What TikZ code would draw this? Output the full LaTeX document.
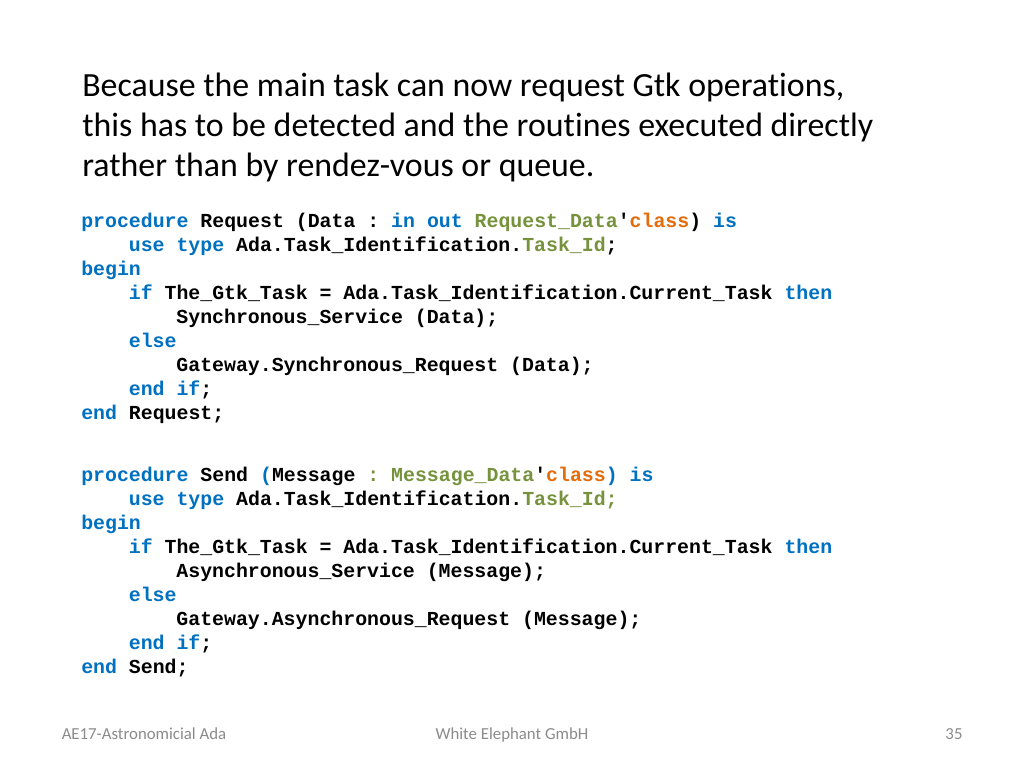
\documentclass[tikz,border=0pt]{standalone}
\usepackage{fontspec}
\setmainfont{Carlito}[Ligatures={NoCommon,NoRare},RawFeature={-liga;-dlig}]
\newfontfamily\codefont{Liberation Mono}
\definecolor{kwblue}{HTML}{0070C0}
\definecolor{tyolive}{HTML}{76923C}
\definecolor{atorange}{HTML}{E46C0A}
\definecolor{footgray}{HTML}{8B8B8B}
\newcommand{\kw}[1]{\textcolor{kwblue}{#1}}
\newcommand{\ty}[1]{\textcolor{tyolive}{#1}}
\newcommand{\atr}[1]{\textcolor{atorange}{#1}}
\newcommand{\indA}{\hspace*{35.7pt}}
\newcommand{\indB}{\hspace*{71.4pt}}
\frenchspacing
\begin{document}
\begin{tikzpicture}[x=0.75pt,y=-0.75pt,
  titlestyle/.style={anchor=base west,inner sep=0pt,font=\fontsize{25.4}{30}\selectfont},
  codestyle/.style={anchor=base west,inner sep=0pt,font=\codefont\bfseries\fontsize{14.9}{18}\selectfont\frenchspacing},
  footstyle/.style={anchor=base,inner sep=0pt,text=footgray,font=\fontsize{12.6}{15}\selectfont}]
\useasboundingbox[fill=white] (0,0) rectangle (1024,768);
\node[titlestyle] (t1) at (82,96) {Because the main task can now request Gtk operations,};
\node[titlestyle] (t2) at (82,136) {this has to be detected and the routines executed directly};
\node[titlestyle] (t3) at (82,176) {rather than by rendez-vous or queue.};
% block 1
\node[codestyle] (a1) at (81,227) {\kw{procedure} Request (Data : \kw{in} \kw{out} \ty{Request\_Data}'\atr{class}) \kw{is}};
\node[codestyle] (a2) at (81,251) {\indA\kw{use} \kw{type} Ada.Task\_Identification.\ty{Task\_Id};};
\node[codestyle] (a3) at (81,275) {\kw{begin}};
\node[codestyle] (a4) at (81,299) {\indA\kw{if} The\_Gtk\_Task = Ada.Task\_Identification.Current\_Task \kw{then}};
\node[codestyle] (a5) at (81,323) {\indB Synchronous\_Service (Data);};
\node[codestyle] (a6) at (81,347) {\indA\kw{else}};
\node[codestyle] (a7) at (81,371) {\indB Gateway.Synchronous\_Request (Data);};
\node[codestyle] (a8) at (81,395) {\indA\kw{end} \kw{if};};
\node[codestyle] (a9) at (81,419) {\kw{end} Request;};
% block 2
\node[codestyle] (b1) at (81,481) {\kw{procedure} Send \kw{(}Message \ty{: Message\_Data}'\atr{class}\kw{)} \kw{is}};
\node[codestyle] (b2) at (81,505) {\indA\kw{use} \kw{type} Ada.Task\_Identification.\ty{Task\_Id;}};
\node[codestyle] (b3) at (81,529) {\kw{begin}};
\node[codestyle] (b4) at (81,553) {\indA\kw{if} The\_Gtk\_Task = Ada.Task\_Identification.Current\_Task \kw{then}};
\node[codestyle] (b5) at (81,577) {\indB Asynchronous\_Service (Message);};
\node[codestyle] (b6) at (81,601) {\indA\kw{else}};
\node[codestyle] (b7) at (81,625) {\indB Gateway.Asynchronous\_Request (Message);};
\node[codestyle] (b8) at (81,649) {\indA\kw{end} \kw{if};};
\node[codestyle] (b9) at (81,673) {\kw{end} Send;};
% footer
\node[footstyle] (f1) at (144,739) {AE17-Astronomicial Ada};
\node[footstyle] (f2) at (512,739) {White Elephant GmbH};
\node[footstyle] (f3) at (954,739) {35};
\end{tikzpicture}
\end{document}
